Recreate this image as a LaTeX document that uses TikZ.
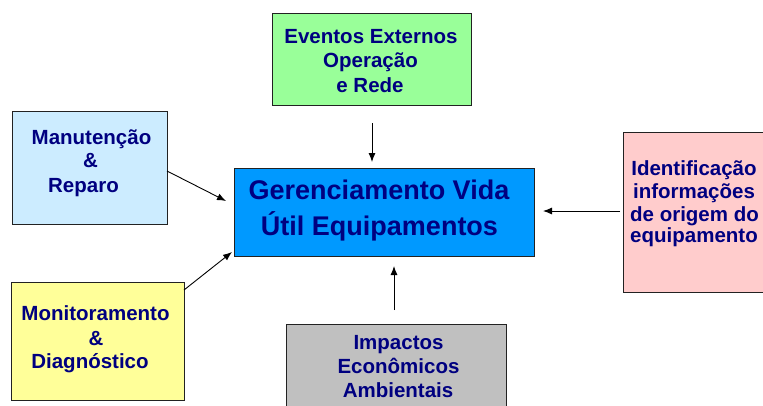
\documentclass[tikz,border=0pt]{standalone}
\usepackage{fontspec}
\setmainfont{Liberation Sans}
\usetikzlibrary{arrows.meta}
\definecolor{navy}{HTML}{000080}
\definecolor{boxgreen}{HTML}{99FF99}
\definecolor{boxlblue}{HTML}{CCECFF}
\definecolor{boxblue}{HTML}{0099FF}
\definecolor{boxpink}{HTML}{FFCCCC}
\definecolor{boxyellow}{HTML}{FFFF99}
\definecolor{boxgray}{HTML}{C0C0C0}
\definecolor{edge}{HTML}{222222}
\tikzset{
  box/.style={draw=edge, line width=1pt, rectangle, inner sep=0pt, outer sep=0pt},
  txt/.style={anchor=base, inner sep=0pt, text=navy, font=\fontsize{20.5}{24}\selectfont\bfseries},
  bigtxt/.style={anchor=base, inner sep=0pt, text=navy, font=\fontsize{27}{32}\selectfont\bfseries},
  arr/.style={draw=black, line width=0.9pt, -{Latex[length=9pt,width=7pt]}}
}
\begin{document}
\begin{tikzpicture}[x=1pt,y=-1pt]
\useasboundingbox (0,0) rectangle (763,405);
% boxes
\node[box, fill=boxgreen, minimum width=199pt, minimum height=92pt] (green) at (371.5,59) {};
\node[box, fill=boxlblue, minimum width=155pt, minimum height=113pt] (manut) at (89.5,167.5) {};
\node[box, fill=boxblue, minimum width=300pt, minimum height=88pt] (ger) at (384,212) {};
\node[box, fill=boxpink, minimum width=157pt, minimum height=160pt] (pink) at (701.5,212) {};
\node[box, fill=boxyellow, minimum width=173pt, minimum height=118pt] (yellow) at (97.5,341) {};
\node[box, fill=boxgray, minimum width=220pt, minimum height=96pt] (gray) at (396,372) {};
% texts
\node[txt] (g1) at (371,43) {Eventos Externos};
\node[txt] (g2) at (370.5,67.5) {Operação};
\node[txt] (g3) at (370,92) {e Rede};
\node[txt] (m1) at (91.5,144) {Manutenção};
\node[txt] (m2) at (90.5,167) {\&};
\node[txt] (m3) at (83.5,192.5) {Reparo};
\node[bigtxt] (c1) at (379,199) {Gerenciamento Vida};
\node[bigtxt] (c2) at (379.5,235) {Útil Equipamentos};
\node[txt] (p1) at (694,175) {Identificação};
\node[txt] (p2) at (694,198) {informações};
\node[txt] (p3) at (694.5,221) {de origem do};
\node[txt] (p4) at (694,242.5) {equipamento};
\node[txt] (y1) at (95.5,320) {Monitoramento};
\node[txt] (y2) at (96,345) {\&};
\node[txt] (y3) at (90,368) {Diagnóstico};
\node[txt] (s1) at (398.5,349) {Impactos};
\node[txt] (s2) at (398.5,373) {Econômicos};
\node[txt] (s3) at (398,397) {Ambientais};
% connectors
\draw[arr, shorten <=18pt, shorten >=6pt] ([xshift=0.5pt]green.south) -- ([xshift=0.5pt]green.south |- ger.north);
\draw[arr] ([yshift=-3.5pt]manut.east) -- ([xshift=-8pt,yshift=11pt]ger.west);
\draw[arr] ([yshift=-8pt]yellow.north east) -- ([xshift=-2pt,yshift=4pt]ger.south west);
\draw[arr, shorten <=3pt, shorten >=9pt] ([yshift=1pt]pink.west) -- ([yshift=1pt]pink.west -| ger.east);
\draw[arr, shorten <=14pt, shorten >=10pt] ([xshift=-2pt]gray.north) -- ([xshift=-2pt]gray.north |- ger.south);
\end{tikzpicture}
\end{document}
